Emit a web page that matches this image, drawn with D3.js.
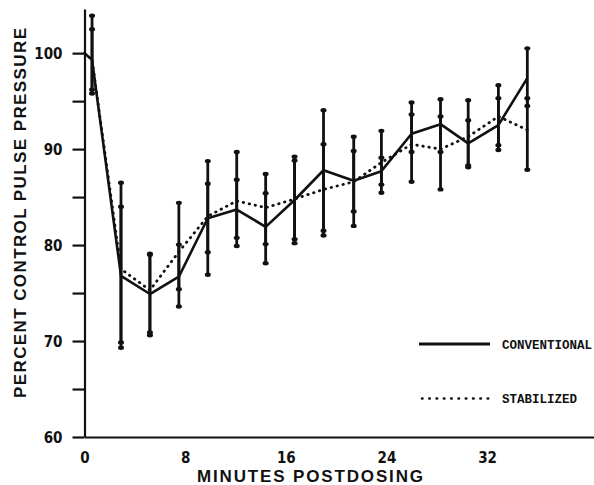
<!DOCTYPE html>
<html>
<head>
<meta charset="utf-8">
<script src="https://cdn.jsdelivr.net/npm/d3@7"></script>
<style>
  body { margin: 0; background: #fff; }
  .tick text { font-family: "DejaVu Sans Condensed", "Liberation Sans Narrow", "DejaVu Sans", sans-serif; font-stretch: condensed; font-weight: bold; font-size: 15px; fill: #111; }
  .title { font-family: "Liberation Sans", Arial, sans-serif; font-weight: bold; font-size: 17px; fill: #111; }
  .legend text { font-family: "Liberation Mono", "DejaVu Sans Mono", monospace; font-weight: bold; font-size: 12.5px; fill: #111; }
</style>
</head>
<body>
<script>

// minutes postdosing for each sample
var minutes = [0, 0.6, 2.9, 5.2, 7.5, 9.8, 12.1, 14.4, 16.7, 19.0, 21.4, 23.6, 26.0, 28.3, 30.5, 32.9, 35.2];

// mean percent control pulse pressure
var conventional = [100, 99.3, 76.8, 74.9, 76.7, 82.8, 83.7, 81.9, 84.7, 87.8, 86.7, 87.7, 91.6, 92.6, 90.6, 92.5, 97.4];
var stabilized   = [100, 99.3, 77.5, 75.3, 79.3, 83.0, 84.6, 83.9, 84.8, 85.8, 86.6, 88.6, 90.5, 90.0, 91.3, 93.4, 92.0];

// error bar ends (null = no bar)
var convLow  = [null, 95.8, 69.3, 70.6, 75.4, 76.9, 80.75, 78.1, 80.2, 81.5, 82.0, 85.45, 89.7, 89.7, 88.1, 89.9, 94.5];
var convHigh = [null, 103.9, 84.0, 79.1, 80.05, 88.75, 86.8, 85.4, 89.2, 94.05, 91.3, 89.1, 93.6, 95.2, 93.0, 95.3, 100.5];
var stabLow  = [null, 96.2, 69.85, 70.9, 73.6, 79.25, 79.9, 80.1, 80.6, 81.0, 83.5, 86.3, 86.6, 85.8, 88.3, 90.4, 87.85];
var stabHigh = [null, 102.5, 86.5, 79.0, 84.4, 86.4, 89.7, 87.4, 88.8, 90.5, 89.8, 91.9, 94.85, 93.4, 95.1, 96.65, 95.3];

var xTicks = [0, 8, 16, 24, 32];
var yTicks = [60, 65, 70, 75, 80, 85, 90, 95, 100];

var width = 594, height = 485;

var svg = d3.select("body").append("svg")
  .attr("width", width)
  .attr("height", height);

var x = d3.scaleLinear().domain([0, 40.5]).range([84.5, 594]);
var y = d3.scaleLinear().domain([60, 104.6]).range([437, 9]);

// y axis
var yAxis = d3.axisLeft(y)
  .tickValues(yTicks)
  .tickSize(12)
  .tickSizeOuter(0)
  .tickPadding(10)
  .tickFormat(function(d) { return d % 10 === 0 ? d : ""; });

svg.append("g")
  .attr("class", "y axis")
  .attr("transform", "translate(" + x(0) + ",0)")
  .call(yAxis)
  .call(function(g) {
    g.selectAll("line, path").attr("stroke", "#111").attr("stroke-width", 2.2);
    g.selectAll("text").attr("dy", "0.36em");
  });

// x axis
var xAxis = d3.axisBottom(x)
  .tickValues(xTicks)
  .tickSize(0)
  .tickSizeOuter(0)
  .tickPadding(15);

svg.append("g")
  .attr("class", "x axis")
  .attr("transform", "translate(0," + y(60) + ")")
  .call(xAxis)
  .call(function(g) {
    g.selectAll("path").attr("stroke", "#111").attr("stroke-width", 2.2);
  });

// axis titles
svg.append("text")
  .attr("class", "title")
  .attr("x", 310)
  .attr("y", 482)
  .attr("text-anchor", "middle")
  .attr("textLength", 226)
  .attr("lengthAdjust", "spacing")
  .text("MINUTES POSTDOSING");

svg.append("text")
  .attr("class", "title")
  .attr("transform", "translate(26,213) rotate(-90)")
  .attr("text-anchor", "middle")
  .attr("textLength", 370)
  .attr("lengthAdjust", "spacing")
  .text("PERCENT CONTROL PULSE PRESSURE");

// error bars
function drawBars(lo, hi) {
  var idx = d3.range(minutes.length).filter(function(i) { return lo[i] != null; });
  var g = svg.append("g").attr("class", "errorbars");
  g.selectAll("line")
    .data(idx)
    .enter().append("line")
    .attr("x1", function(i) { return x(minutes[i]); })
    .attr("x2", function(i) { return x(minutes[i]); })
    .attr("y1", function(i) { return y(lo[i]); })
    .attr("y2", function(i) { return y(hi[i]); })
    .attr("stroke", "#111")
    .attr("stroke-width", 2.8);
  var ends = [];
  idx.forEach(function(i) { ends.push([minutes[i], lo[i]], [minutes[i], hi[i]]); });
  g.selectAll("ellipse")
    .data(ends)
    .enter().append("ellipse")
    .attr("cx", function(d) { return x(d[0]); })
    .attr("cy", function(d) { return y(d[1]); })
    .attr("rx", 3)
    .attr("ry", 2.2)
    .attr("fill", "#111");
}
drawBars(convLow, convHigh);
drawBars(stabLow, stabHigh);

// mean lines
var line = d3.line()
  .x(function(d, i) { return x(minutes[i]); })
  .y(function(d) { return y(d); });

svg.append("path")
  .datum(stabilized)
  .attr("d", line)
  .attr("fill", "none")
  .attr("stroke", "#111")
  .attr("stroke-width", 2.8)
  .attr("stroke-linecap", "round")
  .attr("stroke-dasharray", "0.5,5.6");

svg.append("path")
  .datum(conventional)
  .attr("d", line)
  .attr("fill", "none")
  .attr("stroke", "#111")
  .attr("stroke-width", 2.6)
  .attr("stroke-linejoin", "round");

// legend
var legend = svg.append("g").attr("class", "legend");
legend.append("line")
  .attr("x1", 419).attr("x2", 490).attr("y1", 344).attr("y2", 344)
  .attr("stroke", "#111").attr("stroke-width", 2.8);
legend.append("text").attr("x", 502).attr("y", 348.5).text("CONVENTIONAL");
legend.append("line")
  .attr("x1", 422).attr("x2", 490).attr("y1", 398.5).attr("y2", 398.5)
  .attr("stroke", "#111").attr("stroke-width", 2.6)
  .attr("stroke-linecap", "round")
  .attr("stroke-dasharray", "0.5,6.8");
legend.append("text").attr("x", 502).attr("y", 402.5).text("STABILIZED");

</script>
</body>
</html>
